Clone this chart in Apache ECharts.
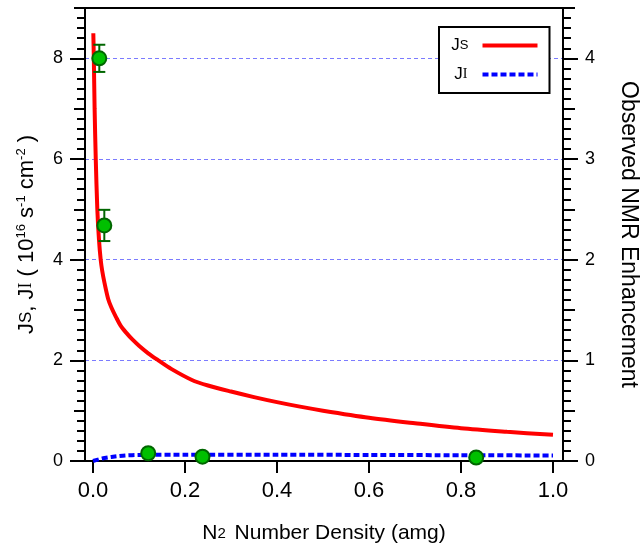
<!DOCTYPE html>
<html lang="en">
<head>
    <meta charset="UTF-8">
    <title>Js, JI vs N2 density</title>
    <script src="https://cdn.jsdelivr.net/npm/echarts@6/dist/echarts.min.js"></script>
    <style>
        html, body { margin: 0; padding: 0; background: #fff; }
        #main { width: 641px; height: 546px; }
    </style>
</head>
<body>
<div id="main"></div>
<script>
    // JS curve (left axis)
    var jsX = [0.0007, 0.0018, 0.0035, 0.006, 0.0094, 0.013, 0.0167, 0.02, 0.025, 0.033, 0.04, 0.05, 0.06, 0.073, 0.085, 0.1, 0.12, 0.142, 0.17, 0.215, 0.25, 0.3, 0.35, 0.4, 0.45, 0.5, 0.6, 0.7, 0.8, 0.9, 1.0];
    var jsY = [8.5, 8.0, 7.0, 6.0, 5.0, 4.4, 4.0, 3.78, 3.54, 3.22, 3.05, 2.86, 2.69, 2.54, 2.42, 2.29, 2.14, 2.0, 1.83, 1.61, 1.5, 1.38, 1.27, 1.17, 1.08, 1.0, 0.86, 0.75, 0.65, 0.58, 0.52];
    // JI curve (left axis)
    var jiX = [0, 0.02, 0.04, 0.07, 0.1, 0.2, 0.4, 0.6, 0.8, 1.0];
    var jiY = [0, 0.05, 0.08, 0.11, 0.12, 0.125, 0.125, 0.12, 0.115, 0.11];
    // observed NMR enhancement (right axis), err = half bar
    var obsX = [0.0137, 0.0246, 0.12, 0.238, 0.833];
    var obsY = [4.0, 2.34, 0.077, 0.043, 0.035];
    var obsErr = [0.135, 0.155, 0, 0, 0];
    var xTicks = [0, 0.2, 0.4, 0.6, 0.8, 1.0];
    var leftTicks = [0, 2, 4, 6, 8];
    var rightTicks = [0, 1, 2, 3, 4];

    var FONT = 'Liberation Sans';
    var SERIF = 'Liberation Serif';
    var BLACK = '#000';

    function pairs(xs, ys) {
        return xs.map(function (x, i) { return [x, ys[i]]; });
    }

    var errData = [];
    obsX.forEach(function (x, i) {
        if (obsErr[i] > 0) errData.push([x, obsY[i] - obsErr[i], obsY[i] + obsErr[i]]);
    });

    // extra tick-only axes for medium / minor ticks
    function tickAxis(pos, max, interval, len) {
        return {
            type: 'value', position: pos, min: 0, max: max, interval: interval,
            axisLine: {show: false, onZero: false},
            axisTick: {show: true, length: len, lineStyle: {color: BLACK, width: 2}},
            axisLabel: {show: false},
            splitLine: {show: false}
        };
    }

    var chart = echarts.init(document.getElementById('main'));

    var option = {
        animation: false,
        textStyle: {fontFamily: FONT},
        grid: {
            left: 85, right: 78, top: 8, bottom: 85,
            outerBoundsMode: 'none',
            containLabel: false,
            show: true, borderColor: BLACK, borderWidth: 2, backgroundColor: 'transparent'
        },
        legend: {
            data: ['JS', 'JI'],
            orient: 'vertical',
            left: 439, top: 27,
            align: 'right',
            padding: [10, 10, 10, 12],
            itemGap: 12,
            itemWidth: 55,
            itemHeight: 17,
            borderColor: BLACK,
            borderWidth: 2,
            backgroundColor: '#fff',
            itemStyle: {opacity: 0},
            lineStyle: {width: 4},
            formatter: function (name) {
                return name === 'JS' ? '{j|J}{s|S}{g1| }' : '{p| }{j|J}{i|I}{g2| }';
            },
            textStyle: {
                rich: {
                    j: {fontFamily: FONT, fontSize: 17, color: BLACK},
                    s: {fontFamily: FONT, fontSize: 13, color: BLACK},
                    i: {fontFamily: SERIF, fontSize: 14, color: BLACK},
                    g1: {width: 9},
                    g2: {width: 10},
                    p: {width: 4}
                }
            }
        },
        xAxis: {
            type: 'value',
            min: -0.01739, max: 1.02174,
            axisLine: {onZero: false, lineStyle: {color: BLACK, width: 2}},
            axisTick: {customValues: xTicks, length: 12, lineStyle: {color: BLACK, width: 2}},
            axisLabel: {
                customValues: xTicks, margin: 19, fontSize: 22, color: BLACK, fontFamily: FONT,
                formatter: function (v) { return v.toFixed(1); }
            },
            splitLine: {show: false},
            name: '{t|N}{sub|2}{t| Number Density (amg)}',
            nameLocation: 'middle',
            nameGap: 62,
            nameTextStyle: {
                rich: {
                    t: {fontFamily: FONT, fontSize: 21, color: BLACK},
                    sub: {fontFamily: FONT, fontSize: 15, color: BLACK, padding: [0, 3, 0, 0]}
                }
            }
        },
        yAxis: [
            {
                type: 'value', position: 'left', min: 0, max: 9, interval: 2,
                axisLine: {show: true, onZero: false, lineStyle: {color: BLACK, width: 2}},
                axisTick: {customValues: leftTicks, length: 15, lineStyle: {color: BLACK, width: 2}},
                axisLabel: {customValues: leftTicks, margin: 22, fontSize: 18, color: BLACK, fontFamily: FONT},
                splitLine: {show: true, lineStyle: {color: '#7b7bff', width: 1, type: [4, 3]}},
                name: '{j|J}{s|S}{t|, }{j|J}{i|I}{t| ( 10}{sup|16}{t| s}{sup|-1}{t| cm}{sup|-2}{t| )}',
                nameLocation: 'middle',
                nameRotate: 90,
                nameGap: 47,
                nameTextStyle: {
                    rich: {
                        j: {fontFamily: FONT, fontSize: 22, color: BLACK},
                        s: {fontFamily: FONT, fontSize: 17, color: BLACK},
                        i: {fontFamily: SERIF, fontSize: 18, color: BLACK},
                        t: {fontFamily: FONT, fontSize: 22, color: BLACK},
                        sup: {fontFamily: FONT, fontSize: 13, color: BLACK, padding: [0, 0, 10, 0]}
                    }
                }
            },
            tickAxis('left', 9, 1, 11),
            tickAxis('left', 9, 0.2, 8),
            {
                type: 'value', position: 'right', min: 0, max: 4.5, interval: 1,
                axisLine: {show: true, onZero: false, lineStyle: {color: BLACK, width: 2}},
                axisTick: {customValues: rightTicks, length: 15, lineStyle: {color: BLACK, width: 2}},
                axisLabel: {customValues: rightTicks, margin: 22, fontSize: 18, color: BLACK, fontFamily: FONT},
                splitLine: {show: false},
                name: 'Observed NMR Enhancement',
                nameLocation: 'middle',
                nameRotate: -90,
                nameGap: 54,
                nameTextStyle: {fontFamily: FONT, fontSize: 23, color: BLACK}
            },
            tickAxis('right', 4.5, 0.5, 12),
            tickAxis('right', 4.5, 0.1, 8)
        ],
        series: [
            {
                name: 'JS',
                type: 'line',
                yAxisIndex: 0,
                data: pairs(jsX, jsY),
                showSymbol: false,
                symbol: 'none',
                smooth: 0.3,
                lineStyle: {color: '#ff0000', width: 4},
                itemStyle: {color: '#ff0000'},
                z: 2
            },
            {
                name: 'JI',
                type: 'line',
                yAxisIndex: 0,
                data: pairs(jiX, jiY),
                showSymbol: false,
                symbol: 'none',
                smooth: 0.25,
                lineStyle: {color: '#0000ff', width: 4, type: [6, 3]},
                itemStyle: {color: '#0000ff'},
                z: 2
            },
            {
                name: 'err',
                type: 'custom',
                yAxisIndex: 3,
                data: errData,
                z: 3,
                renderItem: function (params, api) {
                    var x = api.value(0);
                    var lo = api.coord([x, api.value(1)]);
                    var hi = api.coord([x, api.value(2)]);
                    var cap = 6;
                    var style = {stroke: '#006600', lineWidth: 2};
                    return {
                        type: 'group',
                        children: [
                            {type: 'line', shape: {x1: lo[0], y1: lo[1], x2: hi[0], y2: hi[1]}, style: style},
                            {type: 'line', shape: {x1: lo[0] - cap, y1: lo[1], x2: lo[0] + cap, y2: lo[1]}, style: style},
                            {type: 'line', shape: {x1: hi[0] - cap, y1: hi[1], x2: hi[0] + cap, y2: hi[1]}, style: style}
                        ]
                    };
                }
            },
            {
                name: 'obs',
                type: 'scatter',
                yAxisIndex: 3,
                data: pairs(obsX, obsY),
                symbol: 'circle',
                symbolSize: 14,
                itemStyle: {color: '#00c000', borderColor: '#006600', borderWidth: 2, opacity: 1},
                z: 4
            }
        ]
    };

    chart.setOption(option);
</script>
</body>
</html>
